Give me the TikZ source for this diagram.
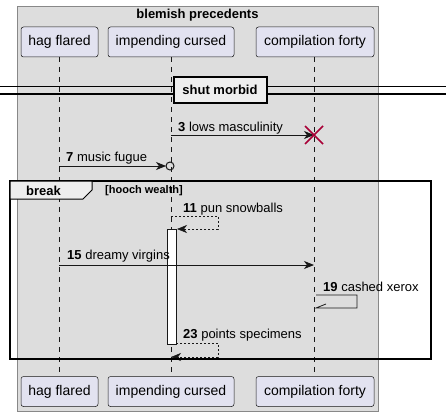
\documentclass[tikz,border=0pt]{standalone}
\usepackage{fontspec}
\setmainfont{Liberation Sans}
\usetikzlibrary{arrows.meta}
\definecolor{boxfill}{HTML}{DDDDDD}
\definecolor{boxline}{HTML}{888888}
\definecolor{partfill}{HTML}{E2E2F0}
\definecolor{partline}{HTML}{181818}
\definecolor{tabfill}{HTML}{EEEEEE}
\definecolor{destroyred}{HTML}{A80036}
\tikzset{
  part/.style={draw=partline, fill=partfill, rounded corners=2.5pt, line width=0.5pt,
    inner sep=0pt, minimum height=30pt, font=\fontsize{14}{16}\selectfont},
  lifeline/.style={draw=partline, line width=0.5pt, dash pattern=on 5pt off 5pt},
  msg/.style={draw=partline, line width=0.8pt, -{Stealth[length=10pt,width=8pt,inset=3pt]}},
  dmsg/.style={draw=partline, line width=0.6pt, dash pattern=on 2pt off 2pt,
    -{Stealth[length=10pt,width=8pt,inset=3pt]}},
  lbl/.style={anchor=base west, inner sep=0pt, font=\fontsize{13}{15}\selectfont},
  destroy/.style={draw=destroyred, line width=1.5pt},
  actbox/.style={draw=partline, fill=white, line width=0.8pt, inner sep=0pt,
    minimum width=9pt, minimum height=115pt},
  framebox/.style={draw=black, line width=1.5pt},
  tabbox/.style={draw=black, fill=tabfill, line width=1pt},
  divbox/.style={draw=black, fill=tabfill, line width=2pt, inner sep=0pt,
    minimum width=93pt, minimum height=25pt, font=\bfseries\fontsize{13}{15}\selectfont}
}
\begin{document}
\begin{tikzpicture}[x=1pt,y=-1pt]
\useasboundingbox (0,0) rectangle (446,417);
% group box
\node[draw=boxline, fill=boxfill, line width=0.8pt, inner sep=0pt,
  minimum width=361pt, minimum height=405pt] (grp) at (197.5,208.5) {};
\node[font=\bfseries\fontsize{13}{15}\selectfont, anchor=base] (grpt) at (197.5,19) {blemish precedents};
% participants
\node[part, minimum width=77pt] (hagT) at (59.5,42) {hag flared};
\node[part, minimum width=126pt] (impT) at (171,42) {impending cursed};
\node[part, minimum width=118pt] (compT) at (315,42) {compilation forty};
\node[part, minimum width=77pt] (hagB) at (59.5,391.5) {hag flared};
\node[part, minimum width=126pt] (impB) at (171,391.5) {impending cursed};
\node[part, minimum width=118pt] (compB) at (315,391.5) {compilation forty};
% lifelines
\coordinate (hagL1) at (59,57); \coordinate (hagL2) at (59,376);
\coordinate (impL1) at (171,57); \coordinate (impL2) at (171,376);
\coordinate (compL1) at (314,57); \coordinate (compL2) at (314,376);
\draw[lifeline] (hagL1) -- (hagL2);
\draw[lifeline] (impL1) -- (impL2);
\draw[lifeline] (compL1) -- (compL2);
% divider
\coordinate (dl1) at (0,87); \coordinate (dr1) at (446,87);
\coordinate (dl2) at (0,94); \coordinate (dr2) at (446,94);
\draw[line width=1pt] (dl1) -- (dr1);
\draw[line width=1pt] (dl2) -- (dr2);
\node[divbox] (div) at (220,90) {shut morbid};
% message 3
\coordinate (m3s) at (171,135); \coordinate (m3e) at (314,135);
\draw[msg] (m3s) -- (m3e);
\draw[destroy] (m3e) ++(-9,-9) -- ++(18,18);
\draw[destroy] (m3e) ++(-9,9) -- ++(18,-18);
% message 7
\coordinate (m7s) at (59,166); \coordinate (m7e) at (166,166);
\draw[msg] (m7s) -- (m7e);
\node[draw=partline, line width=1pt, circle, inner sep=0pt, minimum size=8pt] (m7c) at (170,166) {};
% activation
\node[actbox] (act) at (171.5,286.5) {};
% message 11
\coordinate (m11a) at (171,216); \coordinate (m11b) at (218,216);
\coordinate (m11c) at (218,229); \coordinate (m11d) at (177,229);
\draw[dmsg] (m11a) -- (m11b) -- (m11c) -- (m11d);
% message 15
\coordinate (m15s) at (59,265); \coordinate (m15e) at (314,265);
\draw[msg] (m15s) -- (m15e);
% message 19
\coordinate (m19a) at (316,295); \coordinate (m19b) at (357,295);
\coordinate (m19c) at (357,308); \coordinate (m19d) at (316,308);
\coordinate (m19h) at (326,304);
\draw[draw=partline, line width=0.8pt] (m19a) -- (m19b) -- (m19c) -- (m19d) -- (m19h);
% message 23
\coordinate (m23a) at (176,343); \coordinate (m23b) at (218,343);
\coordinate (m23c) at (218,357); \coordinate (m23d) at (171,357);
\draw[dmsg] (m23a) -- (m23b) -- (m23c) -- (m23d);
% break frame
\draw[framebox] (10,181) rectangle (431,359);
\draw[tabbox] (10,181) -- (92,181) -- (92,190) -- (83,199) -- (10,199) -- cycle;
\node[anchor=base west, inner sep=0pt, font=\bfseries\fontsize{13}{15}\selectfont] (brk) at (26,195) {break};
\node[anchor=base west, inner sep=0pt, font=\bfseries\fontsize{11}{13}\selectfont] (grd) at (105,193) {[hooch wealth]};
% labels
\node[lbl] (l3) at (178,131) {\textbf{3} lows masculinity};
\node[lbl] (l7) at (66,161) {\textbf{7} music fugue};
\node[lbl] (l11) at (183,212) {\textbf{11} pun snowballs};
\node[lbl] (l15) at (67,259) {\textbf{15} dreamy virgins};
\node[lbl] (l19) at (323,291) {\textbf{19} cashed xerox};
\node[lbl] (l23) at (183,338) {\textbf{23} points specimens};
\end{tikzpicture}
\end{document}
